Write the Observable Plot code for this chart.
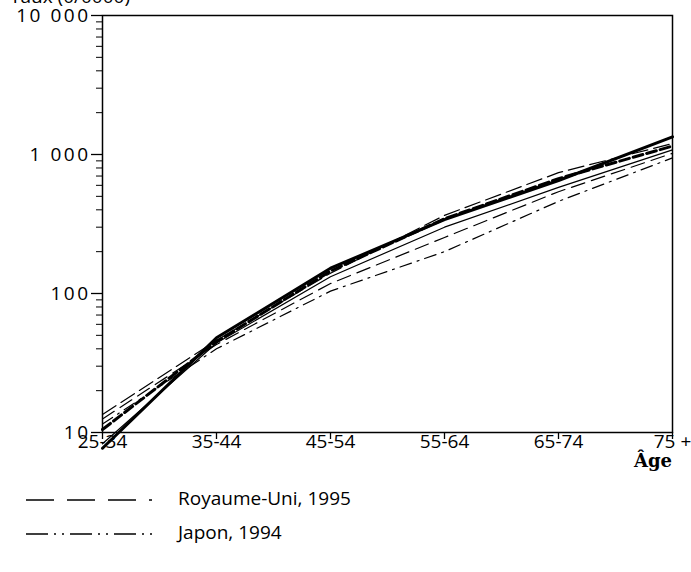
<!DOCTYPE html>
<html>
<head>
<meta charset="utf-8">
<script src="https://cdn.jsdelivr.net/npm/d3@7"></script>
<script src="https://cdn.jsdelivr.net/npm/@observablehq/plot@0.6"></script>
<style>
  body { margin: 0; background: #fff; font-family: "Open Sans", Lato, sans-serif; }
  #wrap { position: relative; width: 691px; height: 572px; overflow: hidden; }
  #chart svg text { font-size: 19px; font-family: "Open Sans", Lato, sans-serif; fill: #000; }
  #chart svg g[aria-label="y-axis tick label"] text { letter-spacing: 2.5px; }
  #ylab { position: absolute; left: 10px; top: -17px; font-size: 19px; color: #000; white-space: nowrap; }
  #age { position: absolute; right: 19px; top: 450px; font-size: 18px; font-weight: bold; font-family: "DejaVu Serif", serif; }
  #legend { position: absolute; left: 0; top: 487px; }
  .row { position: relative; height: 34px; width: 400px; }
  .row svg { position: absolute; left: 26px; top: 8px; }
  .row span { position: absolute; left: 178px; top: -2px; font-size: 19px; white-space: nowrap; }
</style>
</head>
<body>
<div id="wrap">
  <div id="chart"></div>
  <div id="ylab">Taux (0/0000)</div>
  <div id="age">Âge</div>
  <div id="legend"></div>
</div>
<script>
const ages = ["25-34", "35-44", "45-54", "55-64", "65-74", "75 +"];
const seriesNames = ["A", "B", "C", "D", "Royaume-Uni, 1995", "Japon, 1994"];
const valsA = [7.7, 48, 152, 340, 650, 1340];
const valsB = [10.5, 45, 145, 345, 670, 1150];
const valsC = [8.3, 44, 132, 300, 580, 1080];
const valsD = [13.5, 46, 140, 365, 740, 1200];
const valsRU = [12.5, 43, 118, 253, 540, 1020];
const valsJP = [11.5, 40, 104, 200, 460, 945];
const yTicks = [10, 100, 1000, 10000];
const legendNames = ["Royaume-Uni, 1995", "Japon, 1994"];

const styles = {
  "A": {w: 3, dash: null},
  "B": {w: 3, dash: "10,4"},
  "C": {w: 1.2, dash: null},
  "D": {w: 1.2, dash: "16,6"},
  "Royaume-Uni, 1995": {w: 1.2, dash: "14,7"},
  "Japon, 1994": {w: 1.2, dash: "12,6,2,6"}
};

const allVals = [valsA, valsB, valsC, valsD, valsRU, valsJP];
const data = [];
seriesNames.forEach((s, i) => ages.forEach((a, j) => data.push({series: s, age: a, value: allVals[i][j]})));

const minor = [];
for (let d = 10; d < 10000; d *= 10) for (let k = 2; k <= 9; k++) minor.push(d * k);
const fmt = n => String(n).replace(/\B(?=(\d{3})+(?!\d))/g, " ");

const lineMarks = seriesNames.map(s => Plot.line(data.filter(d => d.series === s), {
  x: "age", y: "value", stroke: "black", strokeWidth: styles[s].w,
  strokeDasharray: styles[s].dash, curve: "linear"
}));

const chart = Plot.plot({
  width: 691,
  height: 476,
  marginLeft: 102,
  marginRight: 19,
  marginTop: 15,
  marginBottom: 44,
  style: {fontSize: "19px", color: "black", overflow: "visible"},
  x: {type: "point", domain: ages, padding: 0},
  y: {type: "log", domain: [10, 10000]},
  marks: [
    Plot.frame({stroke: "black", strokeWidth: 1.5}),
    Plot.axisY({ticks: minor, tickSize: 6, tickFormat: () => "", label: null, strokeWidth: 1}),
    Plot.axisY({ticks: yTicks, tickSize: 11, tickPadding: 1, tickFormat: fmt, label: null, strokeWidth: 1.3}),
    Plot.axisX({tickSize: 7, tickPadding: -5, label: null, strokeWidth: 1.3}),
    ...lineMarks
  ]
});
document.getElementById("chart").appendChild(chart);

const legend = document.getElementById("legend");
const legendDash = {"Royaume-Uni, 1995": "28,13", "Japon, 1994": "22,6,2,6,2,6"};
legendNames.forEach(n => {
  const row = document.createElement("div");
  row.className = "row";
  row.innerHTML = `<svg width="130" height="10"><line x1="0" y1="5" x2="126" y2="5" stroke="black" stroke-width="1.3" stroke-dasharray="${legendDash[n]}"/></svg><span>${n}</span>`;
  legend.appendChild(row);
});
</script>
</body>
</html>
